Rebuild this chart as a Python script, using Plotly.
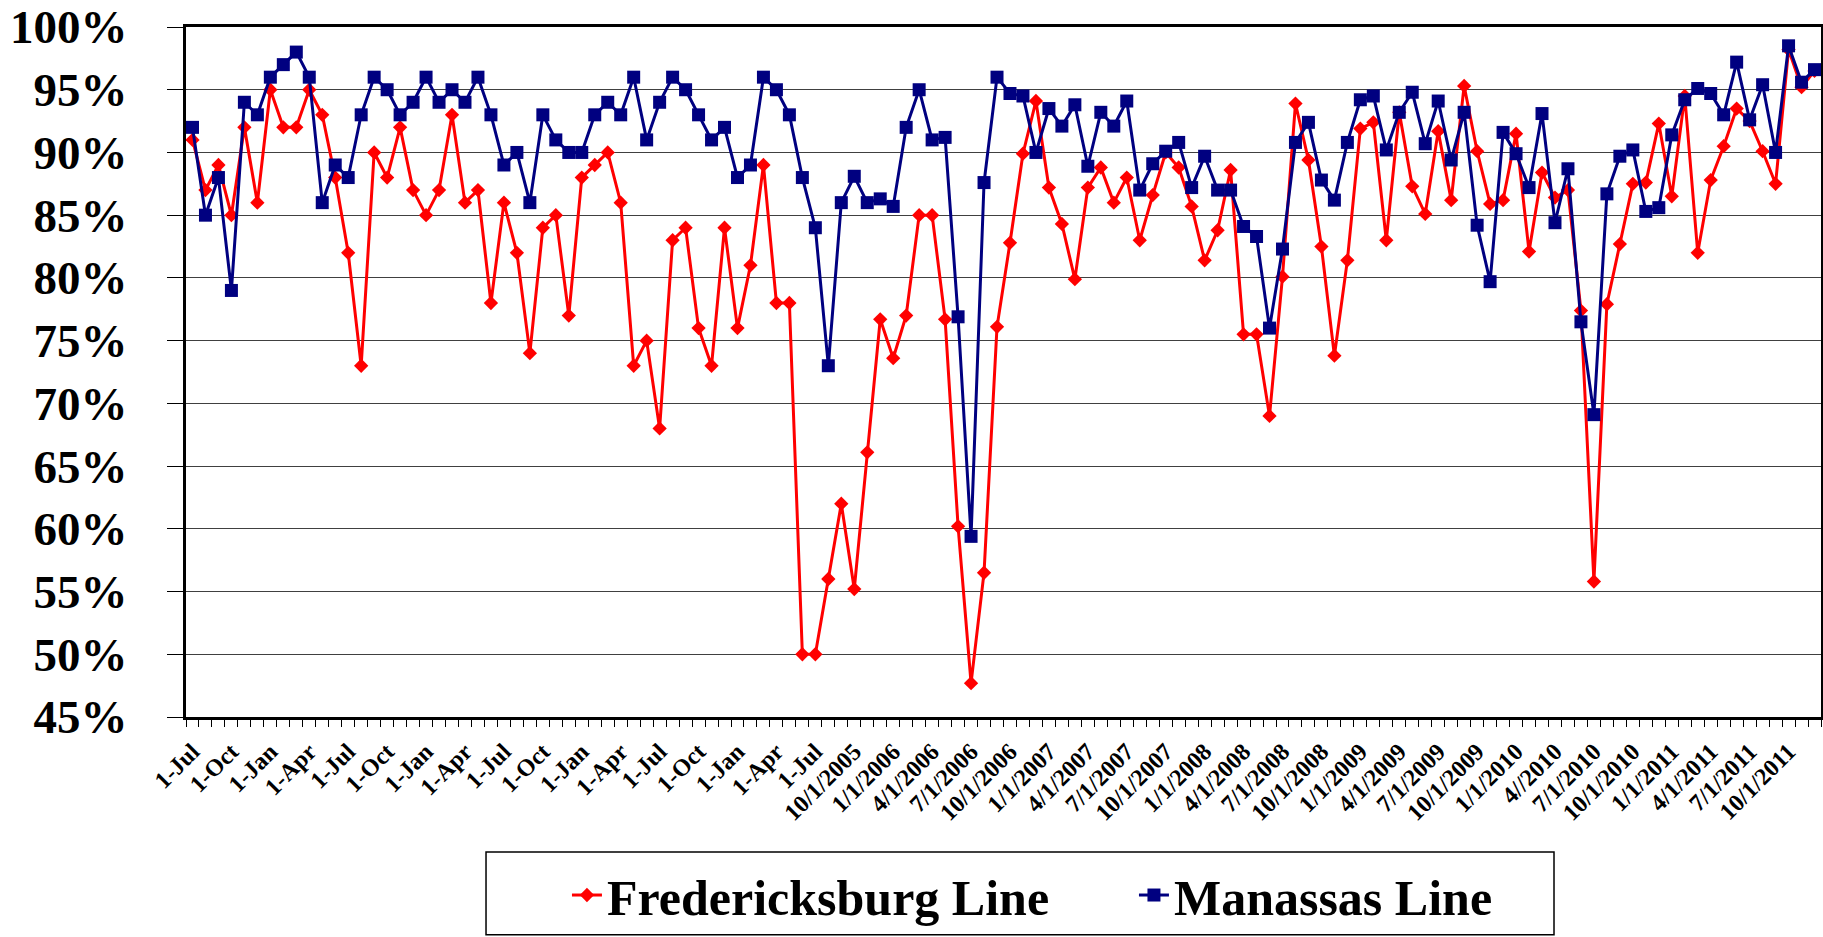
import plotly.graph_objects as go

# one point per month, Jul 2001 .. Dec 2011
months = list(range(126))

fredericksburg = [
    91, 87, 89, 85, 92, 86, 95, 92, 92, 95, 93, 88, 82, 73, 90,
    88, 92, 87, 85, 87, 93, 86, 87, 78, 86, 82, 74, 84, 85, 77,
    88, 89, 90, 86, 73, 75, 68, 83, 84, 76, 73, 84, 76, 81, 89, 78, 78,
    50, 50, 56, 62, 55.2, 66.1, 76.7, 73.6, 77, 85, 85, 76.7, 60.2, 47.7, 56.5, 76.1,
    82.8, 89.9, 94.1, 87.2, 84.3, 79.9, 87.2, 88.8, 86, 88, 83, 86.6, 90, 88.8, 85.7, 81.4,
    83.8, 88.6, 75.5, 75.5, 69, 80.1, 93.9, 89.4, 82.5, 73.8, 81.4, 91.9, 92.4, 83, 93.2, 87.3,
    85.1, 91.7, 86.2, 95.3, 90.1, 85.9, 86.2, 91.5, 82.1, 88.4, 86.4, 87, 77.4, 55.8, 77.9, 82.7,
    87.5, 87.6, 92.3, 86.5, 94.5, 82, 87.8, 90.5, 93.5, 92.5, 90.1, 87.5, 98.2, 95.2, 96.5,
]

manassas = [
    92, 85, 88, 79, 94, 93, 96, 97, 98, 96, 86, 89, 88, 93, 96,
    95, 93, 94, 96, 94, 95, 94, 96, 93, 89, 90, 86, 93, 91, 90,
    90, 93, 94, 93, 96, 91, 94, 96, 95, 93, 91, 92, 88, 89, 96, 95, 93,
    88, 84, 73, 86, 88.1, 86, 86.3, 85.7, 92, 95, 91, 91.2, 76.9, 59.4, 87.6, 96,
    94.7, 94.5, 90, 93.5, 92.1, 93.8, 88.9, 93.2, 92.1, 94.1, 87, 89.1, 90.1, 90.8, 87.2, 89.7,
    87, 87, 84.1, 83.3, 76, 82.3, 90.8, 92.4, 87.8, 86.2, 90.8, 94.2, 94.5, 90.2, 93.2, 94.8,
    90.7, 94.1, 89.4, 93.2, 84.2, 79.7, 91.6, 89.9, 87.2, 93.1, 84.4, 88.7, 76.5, 69.1, 86.7, 89.7,
    90.2, 85.3, 85.6, 91.4, 94.2, 95.1, 94.7, 93, 97.2, 92.6, 95.4, 90, 98.5, 95.6, 96.6,
]

tick_labels = [
    "1-Jul", "1-Oct", "1-Jan", "1-Apr", "1-Jul", "1-Oct", "1-Jan", "1-Apr",
    "1-Jul", "1-Oct", "1-Jan", "1-Apr", "1-Jul", "1-Oct", "1-Jan", "1-Apr",
    "1-Jul", "10/1/2005", "1/1/2006", "4/1/2006", "7/1/2006", "10/1/2006",
    "1/1/2007", "4/1/2007", "7/1/2007", "10/1/2007", "1/1/2008", "4/1/2008",
    "7/1/2008", "10/1/2008", "1/1/2009", "4/1/2009", "7/1/2009", "10/1/2009",
    "1/1/2010", "4//2010", "7/1/2010", "10/1/2010", "1/1/2011", "4/1/2011",
    "7/1/2011", "10/1/2011",
]
tick_pos = months[::3]

y_ticks = [45, 50, 55, 60, 65, 70, 75, 80, 85, 90, 95, 100]

FONT = "Liberation Serif"

fig = go.Figure()

fig.add_trace(
    go.Scatter(
        x=months,
        y=fredericksburg,
        mode="lines+markers",
        name="Fredericksburg Line",
        line=dict(color="#FF0000", width=3),
        marker=dict(symbol="diamond", size=11, color="#FF0000"),
    )
)

fig.add_trace(
    go.Scatter(
        x=months,
        y=manassas,
        mode="lines+markers",
        name="Manassas Line",
        line=dict(color="#000080", width=3),
        marker=dict(symbol="square", size=13, color="#000080"),
    )
)

fig.update_layout(
    width=1823,
    height=937,
    margin=dict(l=186, r=2, t=27, b=220),
    paper_bgcolor="white",
    plot_bgcolor="white",
    font=dict(family=FONT, color="black"),
    showlegend=True,
    legend=dict(
        orientation="h",
        x=0.233,
        xanchor="left",
        y=-0.258,
        yanchor="middle",
        font=dict(family=FONT, size=50, weight="bold", color="black"),
        entrywidth=522,
        bgcolor="rgba(0,0,0,0)",
        borderwidth=0,
    ),
    # legend frame
    shapes=[
        dict(
            type="rect",
            xref="paper",
            yref="paper",
            x0=0.1835,
            x1=0.8367,
            y0=-0.1955,
            y1=-0.3155,
            line=dict(color="black", width=1.5),
        )
    ],
)

fig.update_xaxes(
    range=[-0.5, 125.5],
    tickmode="array",
    tickvals=tick_pos,
    ticktext=tick_labels,
    tickangle=-45,
    ticks="",
    ticklabelstandoff=8,
    automargin=False,
    showgrid=False,
    zeroline=False,
    showline=True,
    linecolor="black",
    linewidth=3,
    mirror=True,
    tickfont=dict(family=FONT, size=24, weight="bold", color="black"),
    minor=dict(
        tickmode="array",
        tickvals=[m - 0.5 for m in months] + [months[-1] + 0.5],
        ticks="outside",
        ticklen=7,
        tickwidth=1,
        tickcolor="black",
        showgrid=False,
    ),
)

fig.update_yaxes(
    range=[45, 100],
    tickmode="array",
    tickvals=y_ticks,
    ticktext=[f"{v}%" for v in y_ticks],
    ticklabeloverflow="allow",
    automargin=False,
    showgrid=True,
    gridcolor="#404040",
    gridwidth=1,
    ticks="outside",
    ticklen=16,
    tickwidth=1,
    tickcolor="black",
    zeroline=False,
    showline=True,
    linecolor="black",
    linewidth=3,
    mirror=True,
    ticklabelstandoff=30,
    tickfont=dict(family=FONT, size=47, weight="bold", color="black"),
)

fig.write_html(
    "out.html",
    config={"displayModeBar": False},
    post_script="document.body.style.margin='0';",
)
